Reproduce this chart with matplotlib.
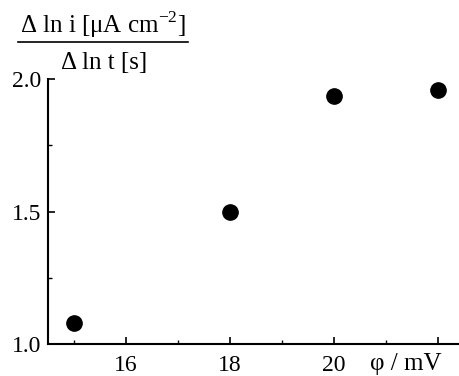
import matplotlib
matplotlib.use("Agg")
import matplotlib.pyplot as plt
from matplotlib.lines import Line2D

phi = [15, 18, 20, 22]
slope = [1.08, 1.50, 1.936, 1.958]
xticks = [16, 18, 20]
yticks = [1.0, 1.5, 2.0]

plt.rcParams['font.family'] = ['Liberation Serif', 'DejaVu Serif']
plt.rcParams['mathtext.fontset'] = 'custom'
plt.rcParams['mathtext.rm'] = 'Liberation Serif'

fig = plt.figure(figsize=(4.6, 3.76), dpi=100)
ax = fig.add_axes([48/460, 32/376, 410/460, 265/376])

ax.plot(phi, slope, 'o', color='black', markersize=11)

ax.set_xlim(14.5, 14.5 + 410/52)
ax.set_ylim(1.0, 2.0)
ax.set_xticks([16, 18, 20, 22])
ax.set_xticklabels([str(t) for t in xticks] + [''])
ax.set_xticks([15, 17, 19, 21], minor=True)
ax.set_yticks(yticks)
ax.set_yticklabels(['%.1f' % t for t in yticks])
ax.set_yticks([1.25, 1.75], minor=True)

for s in ['top', 'right']:
    ax.spines[s].set_visible(False)
for s in ['left', 'bottom']:
    ax.spines[s].set_linewidth(1.5)

ax.tick_params(which='major', direction='in', length=5, width=1.2, labelsize=17)
ax.tick_params(which='minor', direction='in', length=3, width=1.0)
ax.tick_params(axis='x', pad=8)
ax.tick_params(axis='y', pad=5)

fig.text(370/460, 1 - 364/376, 'φ / mV', fontsize=18, va='center', ha='left')

# fraction label
fig.text(103/460, 1 - 25/376, 'Δ ln i [μA cm$^{-2}$]', fontsize=18, ha='center', va='center')
fig.add_artist(Line2D([18/460, 188/460], [1 - 42/376, 1 - 42/376], color='black', lw=1.2,
                      transform=fig.transFigure))
fig.text(104/460, 1 - 63/376, 'Δ ln t [s]', fontsize=18, ha='center', va='center')

fig.savefig('out.png', dpi=100)
